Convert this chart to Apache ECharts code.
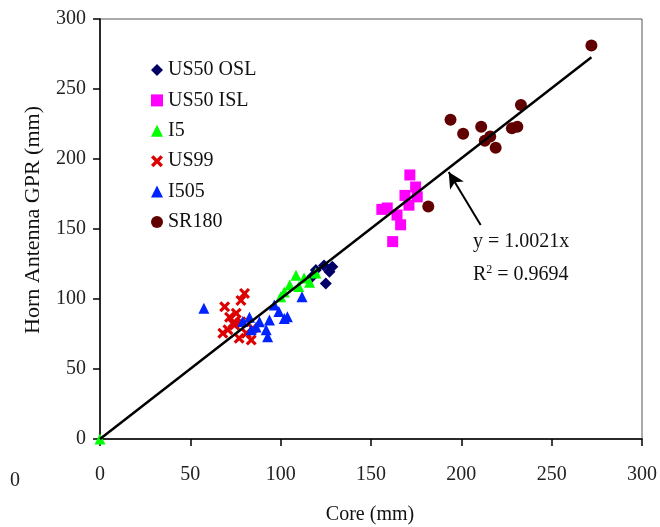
<!DOCTYPE html>
<html>
<head>
<meta charset="utf-8">
<script src="https://cdn.jsdelivr.net/npm/echarts@6/dist/echarts.min.js"></script>
<style>html,body{margin:0;padding:0;background:#fff;}#c{width:660px;height:527px;}</style>
</head>
<body>
<div id="c"></div>
<script>
const xTicks = [0, 50, 100, 150, 200, 250, 300];
const yTicks = [0, 50, 100, 150, 200, 250, 300];

const us50oslX = [124, 127, 119.5, 125, 128.6, 117.5];
const us50oslY = [124, 119.5, 120.7, 111, 123, 116];

const us50islX = [171.5, 174.7, 168.8, 175.6, 159, 171, 164.4, 166.4, 162, 156];
const us50islY = [188.6, 180, 174, 173, 165, 167, 160, 153, 141, 164];

const i5X = [0, 108.5, 113, 116, 105, 102, 100, 119.5, 110];
const i5Y = [0, 117, 115, 112, 110, 105, 101.6, 118.6, 109];

const us99X = [80, 78, 69, 75.4, 71.7, 70.8, 68, 77, 81, 83.7, 73.5, 78, 84.5, 74.5];
const us99Y = [104, 99, 94.5, 89.8, 87, 78, 75.5, 72, 75.5, 70.7, 82.6, 83.8, 79, 81.4];

const i505X = [111.8, 96.5, 99, 102, 93.8, 92, 92.8, 82.7, 79, 86.4, 83.7, 57.5, 88.3, 103.7];
const i505Y = [101.6, 95.7, 91, 86, 85, 78, 73, 87, 84, 80, 78, 93.4, 83.8, 87.4];

const sr180X = [272, 194, 201, 211, 216, 219, 233, 231, 228, 181.7, 213];
const sr180Y = [281, 228, 218, 223, 216, 208, 238.6, 223, 222, 166, 213];

const trendX = [0, 272];
const trendY = [0, 272.6];

const arrowFrom = [210.7, 152.9];
const arrowTo = [193, 190.7];

const zip = (a, b) => a.map((v, i) => [v, b[i]]);
const crossPath = 'path://M0,2 L2,0 L5,3 L8,0 L10,2 L7,5 L10,8 L8,10 L5,7 L2,10 L0,8 L3,5 Z';
const font = '"Liberation Serif", "Times New Roman", serif';

const chart = echarts.init(document.getElementById('c'), null, {renderer: 'canvas'});
chart.setOption({
  animation: false,
  backgroundColor: '#fff',
  grid: {left: 100, right: 16, top: 19, bottom: 88, show: true, borderColor: '#555', borderWidth: 1},
  legend: {
    orient: 'vertical', left: 146, top: 55, itemGap: 10.4, itemWidth: 12, itemHeight: 12,
    textStyle: {fontFamily: font, fontSize: 20, color: '#111', lineHeight: 20},
    data: ['US50 OSL', 'US50 ISL', 'I5', 'US99', 'I505', 'SR180']
  },
  xAxis: {
    type: 'value', min: 0, max: 300, interval: 50,
    axisLine: {show: true, lineStyle: {color: '#000', width: 1.5}},
    axisTick: {show: true, length: 7, lineStyle: {color: '#000', width: 1.5}},
    axisLabel: {margin: 26, fontFamily: font, fontSize: 20, color: '#222',
      formatter: v => xTicks.includes(v) ? String(v) : ''},
    splitLine: {show: false}
  },
  yAxis: {
    type: 'value', min: 0, max: 300, interval: 50,
    axisLine: {show: true, lineStyle: {color: '#000', width: 1.5}},
    axisTick: {show: true, length: 7, lineStyle: {color: '#000', width: 1.5}},
    axisLabel: {margin: 14, fontFamily: font, fontSize: 20, color: '#222',
      formatter: v => yTicks.includes(v) ? String(v) : ''},
    splitLine: {show: false}
  },
  graphic: [
    {type: 'text', x: 370, y: 515, style: {text: 'Core (mm)', font: '20px ' + font, fill: '#111', align: 'center', verticalAlign: 'middle'}},
    {type: 'text', x: 33, y: 220, rotation: Math.PI / 2, style: {text: 'Horn Antenna GPR (mm)', font: '22px ' + font, fill: '#111', align: 'center', verticalAlign: 'middle'}},
    {type: 'text', x: 15, y: 481, style: {text: '0', font: '20px ' + font, fill: '#222', align: 'center', verticalAlign: 'middle'}},
    {type: 'text', x: 473, y: 242, style: {text: 'y = 1.0021x', font: '20px ' + font, fill: '#111', verticalAlign: 'middle'}},
    {type: 'text', x: 473, y: 275, style: {text: 'R{sup|2} = 0.9694', font: '20px ' + font, fill: '#111', verticalAlign: 'middle',
      rich: {sup: {fontSize: 12, fontFamily: font, verticalAlign: 'top', padding: [0, 0, 10, 0]}}}}
  ],
  series: [
    {name: 'Trend', type: 'line', data: zip(trendX, trendY), symbol: 'none', silent: true,
      lineStyle: {color: '#000', width: 2.5}, z: 5,
      markLine: {silent: true, symbol: ['none', 'arrow'], symbolSize: [12, 16], label: {show: false},
        lineStyle: {color: '#000', width: 2, type: 'solid'},
        data: [[{coord: arrowFrom}, {coord: arrowTo}]]}},
    {name: 'US50 OSL', type: 'scatter', data: zip(us50oslX, us50oslY), symbol: 'diamond', symbolSize: 12,
      itemStyle: {color: '#000066', opacity: 1}},
    {name: 'US50 ISL', type: 'scatter', data: zip(us50islX, us50islY), symbol: 'rect', symbolSize: 11,
      itemStyle: {color: '#ff00ff', opacity: 1}},
    {name: 'I5', type: 'scatter', data: zip(i5X, i5Y), symbol: 'triangle', symbolSize: 11,
      itemStyle: {color: '#00ff00', opacity: 1}},
    {name: 'US99', type: 'scatter', data: zip(us99X, us99Y), symbol: crossPath, symbolSize: 11,
      itemStyle: {color: '#dd0000', opacity: 1}},
    {name: 'I505', type: 'scatter', data: zip(i505X, i505Y), symbol: 'triangle', symbolSize: 11,
      itemStyle: {color: '#0022ff', opacity: 1}},
    {name: 'SR180', type: 'scatter', data: zip(sr180X, sr180Y), symbol: 'circle', symbolSize: 12,
      itemStyle: {color: '#600000', opacity: 1}}
  ]
});
</script>
</body>
</html>
